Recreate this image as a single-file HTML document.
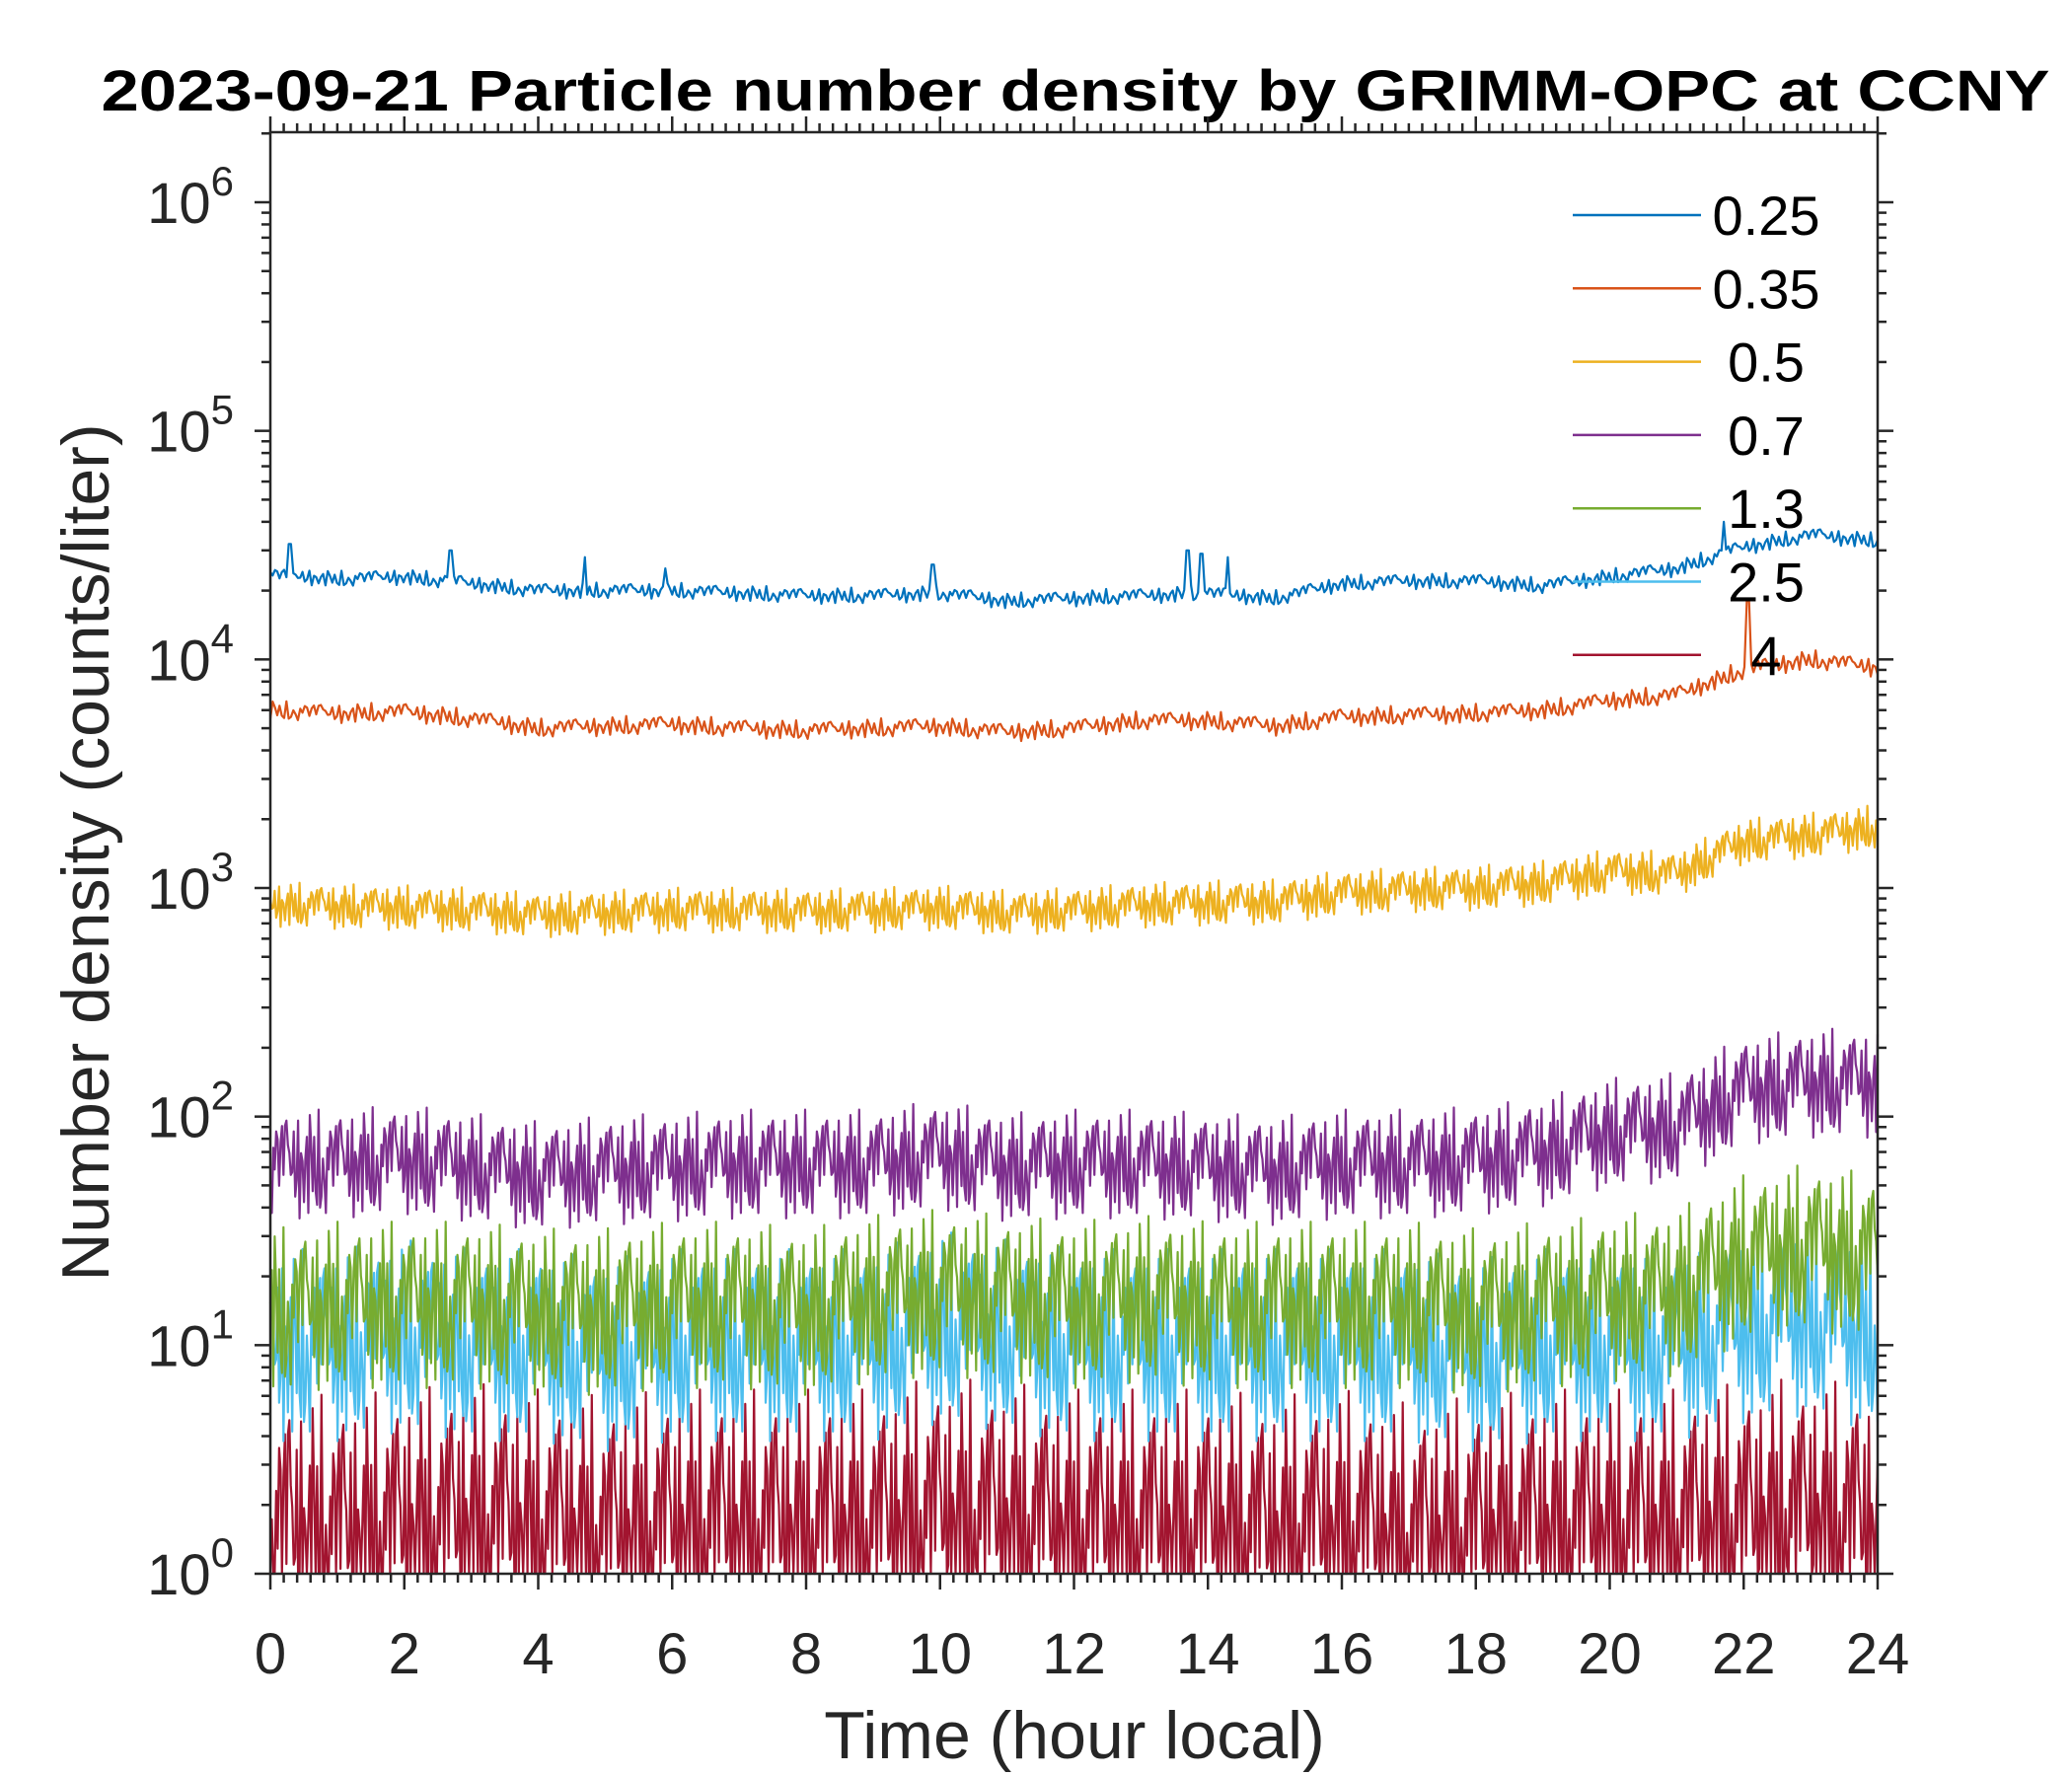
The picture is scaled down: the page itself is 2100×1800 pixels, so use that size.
<!DOCTYPE html>
<html><head><meta charset="utf-8"><style>
html,body{margin:0;padding:0;background:#fff;}
svg{display:block;font-family:"Liberation Sans",Arial,sans-serif;}
</style></head><body>
<svg id="chart" width="2100" height="1800" viewBox="0 0 2100 1800" xmlns="http://www.w3.org/2000/svg">
<rect width="2100" height="1800" fill="#fff"/>
<text x="1090" y="112" text-anchor="middle" font-size="58" font-weight="bold" fill="#000" textLength="1975" lengthAdjust="spacingAndGlyphs">2023-09-21 Particle number density by GRIMM-OPC at CCNY</text>
<g id="series"></g>
<g id="axes"></g>
<g id="legend"></g>
<text x="1089" y="1782" text-anchor="middle" font-size="68" fill="#262626">Time (hour local)</text>
<text transform="translate(110,864) rotate(-90)" text-anchor="middle" font-size="68" fill="#262626">Number density (counts/liter)</text>
</svg>
<script>
const hours=[0,1,2,3,4,5,6,7,8,9,10,11,12,13,14,15,16,17,18,19,20,21,22,23,24];
const seriesNames=["0.25","0.35","0.5","0.7","1.3","2.5","4"];
const seriesColors=["#0072BD","#D95319","#EDB120","#7E2F8E","#77AC30","#4DBEEE","#A2142F"];
const s025=[23500,22500,23000,21500,20000,20000,20000,19500,19000,19000,19500,18000,18500,19000,19500,18500,21500,22000,22000,21000,23000,25000,31000,35000,33000];
const s035=[6000,5800,5900,5500,5000,5100,5200,5000,4900,5000,5100,4800,5000,5400,5400,5100,5600,5700,5800,6000,6600,7000,9000,10000,9200];
const s05=[850,830,820,800,760,780,800,800,790,800,820,780,800,840,860,870,950,980,1000,1050,1180,1150,1600,1700,1850];
const s07=[62,62,65,60,55,58,60,62,62,62,68,60,62,62,60,58,62,62,64,70,85,90,130,140,140];
const s13=[14,15,15,15,14,14,15,15,14,16,17,16,15,16,15,15,15,15,14,15,16,17,24,27,24];
const s25=[10,10,11,10,10,9,10,10,10,10,12,11,10,10,10,10,10,10,9,10,10,10,12,13,11];
const s4=[1.5,1.4,1.5,1.6,1.5,1.4,1.5,1.5,1.5,1.5,1.7,1.6,1.5,1.5,1.5,1.4,1.5,1.3,1.4,1.5,1.5,1.5,1.6,1.7,1.5];
const spreads=[0.025,0.03,0.07,0.17,0.26,0.3,0.45];
const jitter=[0.3,-0.5,0.8,-0.2,0.1,-0.9,0.6,-0.4,1,-0.7,0.2,-0.1,0.5,-1,0.7,-0.3,0.9,-0.6,0.4,-0.8,0.1,-0.2,0.6,-0.5,0.2,0.8,-0.9,0.3,-0.3,0.7,-0.6,0.5,-0.15,0.45,-0.75,0.05,0.35];
const allSeries=[s025,s035,s05,s07,s13,s25,s4];
const spikesT=[0.3,2.7,4.7,5.9,9.9,13.7,13.9,14.3,21.7,22.05];
const spikesV=[32000,30000,28000,25000,26000,30000,29000,28000,40000,18000];
const spikeSeries=[0,0,0,0,0,0,0,0,0,1];
const xTicks=[0,2,4,6,8,10,12,14,16,18,20,22,24];
const yExp=[0,1,2,3,4,5,6];

const L=274,R=1903,T=134,B=1595,Y6=205;
const dec=(B-Y6)/6;
const X=h=>L+(h/24)*(R-L);
const Y=v=>B-Math.log10(Math.max(v,1))*dec;
const NS="http://www.w3.org/2000/svg";
function mk(tag,attrs,parent){const e=document.createElementNS(NS,tag);for(const k in attrs)e.setAttribute(k,attrs[k]);parent.appendChild(e);return e;}
function interp(arr,h){const i=Math.min(Math.floor(h),23);const f=h-i;return Math.exp(Math.log(arr[i])*(1-f)+Math.log(arr[i+1])*f);}

const sg=document.getElementById('series');
const order=[6,5,4,3,2,1,0];
order.forEach(si=>{
  const arr=allSeries[si];const sp=spreads[si];
  const steps=si<2?700:1100;
  let d="";
  for(let k=0;k<=steps;k++){
    const h=24*k/steps;
    let lv=Math.log10(interp(arr,h))+sp*jitter[(k*11+si*5)%jitter.length]*1.4;
    for(let j=0;j<spikesT.length;j++){if(spikeSeries[j]===si&&Math.abs(spikesT[j]-h)<0.03){lv=Math.log10(spikesV[j]);}}
    let yy=B-lv*dec; if(yy>B)yy=B;
    d+=(k?"L":"M")+X(h).toFixed(1)+","+yy.toFixed(1);
  }
  const p=mk('path',{d:d,fill:'none',stroke:seriesColors[si],'stroke-width':2.2,'stroke-linejoin':'round'},sg);
  
  
});

const ax=document.getElementById('axes');
const ac="#262626";
mk('rect',{x:L,y:T,width:R-L,height:B-T,fill:'none',stroke:ac,'stroke-width':2.5},ax);
for(let m=0;m<=120;m++){const h=m*0.2;const x=X(h);const major=(m%10===0);const len=major?16:9;
  mk('line',{x1:x,y1:B,x2:x,y2:B+len,stroke:ac,'stroke-width':2.5},ax);
  mk('line',{x1:x,y1:T,x2:x,y2:T-len,stroke:ac,'stroke-width':2.5},ax);}
xTicks.forEach(t=>{const tx=mk('text',{x:X(t),y:1696,'text-anchor':'middle','font-size':58,fill:ac},ax);tx.textContent=t;
  });
for(let e=0;e<=6;e++){for(let m=1;m<=9;m++){const v=Math.pow(10,e)*m;const y=Y(v);if(y<T)continue;const len=m===1?16:9;
  mk('line',{x1:L,y1:y,x2:L-len,y2:y,stroke:ac,'stroke-width':2.5},ax);
  mk('line',{x1:R,y1:y,x2:R+len,y2:y,stroke:ac,'stroke-width':2.5},ax);}}
yExp.forEach(e=>{const y=Y(Math.pow(10,e));const tx=mk('text',{x:237,y:y+21,'text-anchor':'end','font-size':58,fill:ac},ax);
  
  const a=document.createElementNS(NS,'tspan');a.textContent='10';tx.appendChild(a);
  const b=document.createElementNS(NS,'tspan');b.setAttribute('dy','-28');b.setAttribute('font-size','42');b.textContent=e;tx.appendChild(b);});

const lg=document.getElementById('legend');
seriesNames.forEach((n,i)=>{const y=218+i*74.3;
  const ln=mk('line',{x1:1594,y1:y,x2:1724,y2:y,stroke:seriesColors[i],'stroke-width':2.5},lg);
  
  const t=mk('text',{x:1790,y:y+20,'text-anchor':'middle','font-size':56,fill:'#000'},lg);t.textContent=n;
  });
</script>
</body></html>
